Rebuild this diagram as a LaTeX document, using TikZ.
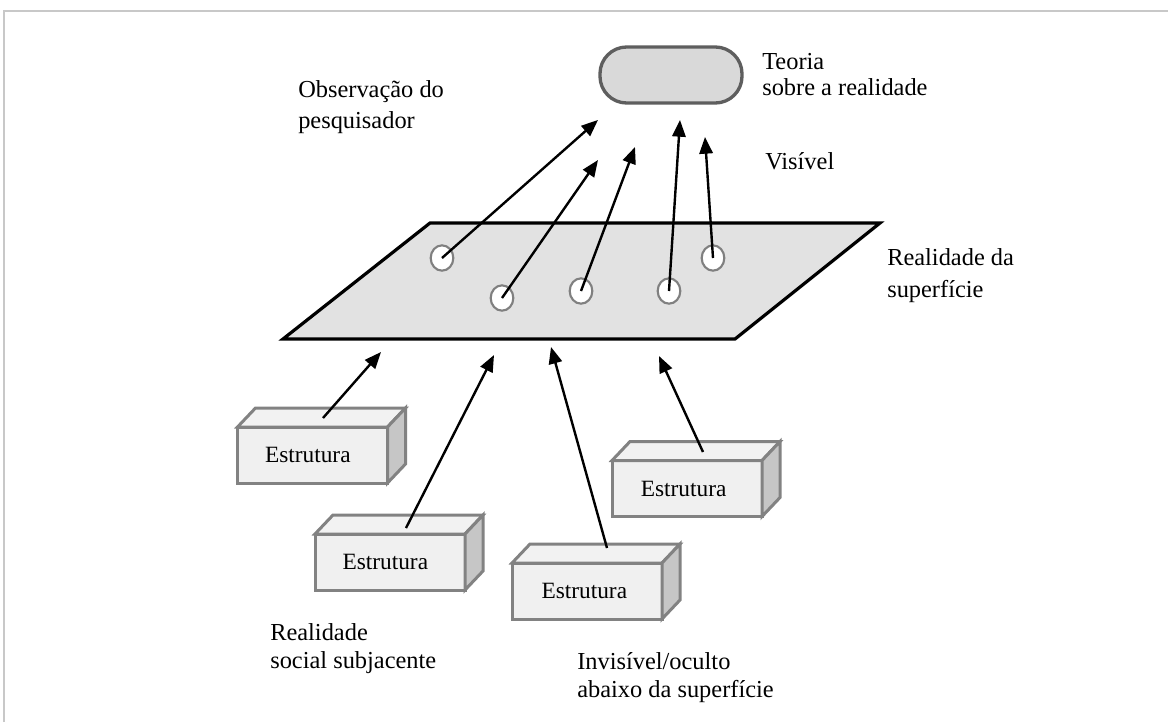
\documentclass[tikz,border=0pt]{standalone}
\usepackage{fontspec}
\setmainfont{Liberation Serif}
\usetikzlibrary{arrows.meta,shapes.geometric}
\definecolor{frameline}{HTML}{C8C8C8}
\definecolor{planefill}{HTML}{E2E2E2}
\definecolor{termfill}{HTML}{D9D9D9}
\definecolor{termline}{HTML}{5E5E5E}
\definecolor{boxline}{HTML}{828282}
\definecolor{boxfront}{HTML}{F0F0F0}
\definecolor{boxtopc}{HTML}{F2F2F2}
\definecolor{boxsidec}{HTML}{C6C6C6}
\definecolor{holeline}{HTML}{808080}
\newcommand\mycuboid[1]{%
  \draw[boxline, line width=2.25pt, fill=boxtopc, line join=miter]
    (#1.north west) -- ++(18,-19) -- ++(150,0) -- (#1.north east) -- cycle;
  \draw[boxline, line width=2.25pt, fill=boxsidec, line join=miter]
    (#1.north east) -- ++(18,-19) -- ++(0,56) -- (#1.south east) -- cycle;
}
\begin{document}
\begin{tikzpicture}[x=0.75pt,y=-0.75pt,
  lbl/.style={anchor=base west, inner sep=0pt, font=\fontsize{18.3}{21}\selectfont},
  arr/.style={line width=1.8pt, -{Triangle[length=12.5pt,width=10pt]}},
  hole/.style={ellipse, draw=holeline, line width=1.6pt, fill=white,
    minimum width=17pt, minimum height=19pt, inner sep=0pt},
  frontface/.style={draw=boxline, line width=2.25pt, fill=boxfront,
    minimum width=112.5pt, minimum height=42pt, inner sep=0pt, outer sep=0pt,
    font=\fontsize{17.5}{20}\selectfont},
  terminal/.style={draw=termline, fill=termfill, line width=2.5pt,
    rounded corners=20pt, minimum width=106.5pt, minimum height=42pt}]
\useasboundingbox (0,0) rectangle (1168,722);
% frame
\draw[frameline, line width=1.5pt] (4,722) -- (4,11) -- (1168,11);
% theory
\node[terminal] (teoria) at (671,75) {};
\node[lbl] (tl1) at (762,69) {Teoria};
\node[lbl] (tl2) at (762,95) {sobre a realidade};
% labels
\node[lbl] (ob1) at (298,97) {Observação do};
\node[lbl] (ob2) at (298,128) {pesquisador};
\node[lbl] (vis) at (765,169) {Visível};
\node[lbl] (rs1) at (887,265) {Realidade da};
\node[lbl] (rs2) at (887,297) {superfície};
\node[lbl] (rb1) at (270,640) {Realidade};
\node[lbl] (rb2) at (270,668) {social subjacente};
\node[lbl] (in1) at (577,669) {Invisível/oculto};
\node[lbl] (in2) at (577,697) {abaixo da superfície};
% surface plane
\draw[fill=planefill, line width=2.4pt, line join=miter]
  (430,223) -- (880,223) -- (735,339) -- (283,339) -- cycle;
% holes
\node[hole] (c1) at (442,258) {};
\node[hole] (c2) at (502,298) {};
\node[hole] (c3) at (581,291) {};
\node[hole] (c4) at (669,291) {};
\node[hole] (c5) at (713,258) {};
% structures
\node[frontface] (b1) at (312.5,455) {\hspace*{-7pt}Estrutura};
\mycuboid{b1}
\node[frontface] (b2) at (390,562) {\hspace*{-7pt}Estrutura};
\mycuboid{b2}
\node[frontface] (b3) at (587,591) {\hspace*{-4pt}Estrutura};
\mycuboid{b3}
\node[frontface] (b4) at (687,488.5) {\hspace*{-5pt}Estrutura};
\mycuboid{b4}
% arrow ends
\coordinate (t1) at (598,120);
\coordinate (t2) at (598,160);
\coordinate (t3) at (635,147);
\coordinate (t4) at (680,120);
\coordinate (t5) at (705,137);
\coordinate (s1) at (323,418);
\coordinate (s2) at (406,528);
\coordinate (s3) at (607,548);
\coordinate (s4) at (703,452);
\coordinate (u1) at (381,352);
\coordinate (u2) at (494,355);
\coordinate (u3) at (551,347);
\coordinate (u4) at (659,356);
% arrows
\draw[arr] (c1.center) -- (t1);
\draw[arr] (c2.center) -- (t2);
\draw[arr] (c3.center) -- (t3);
\draw[arr] (c4.center) -- (t4);
\draw[arr] (c5.center) -- (t5);
\draw[arr] (s1) -- (u1);
\draw[arr] (s2) -- (u2);
\draw[arr] (s3) -- (u3);
\draw[arr] (s4) -- (u4);
\end{tikzpicture}
\end{document}
